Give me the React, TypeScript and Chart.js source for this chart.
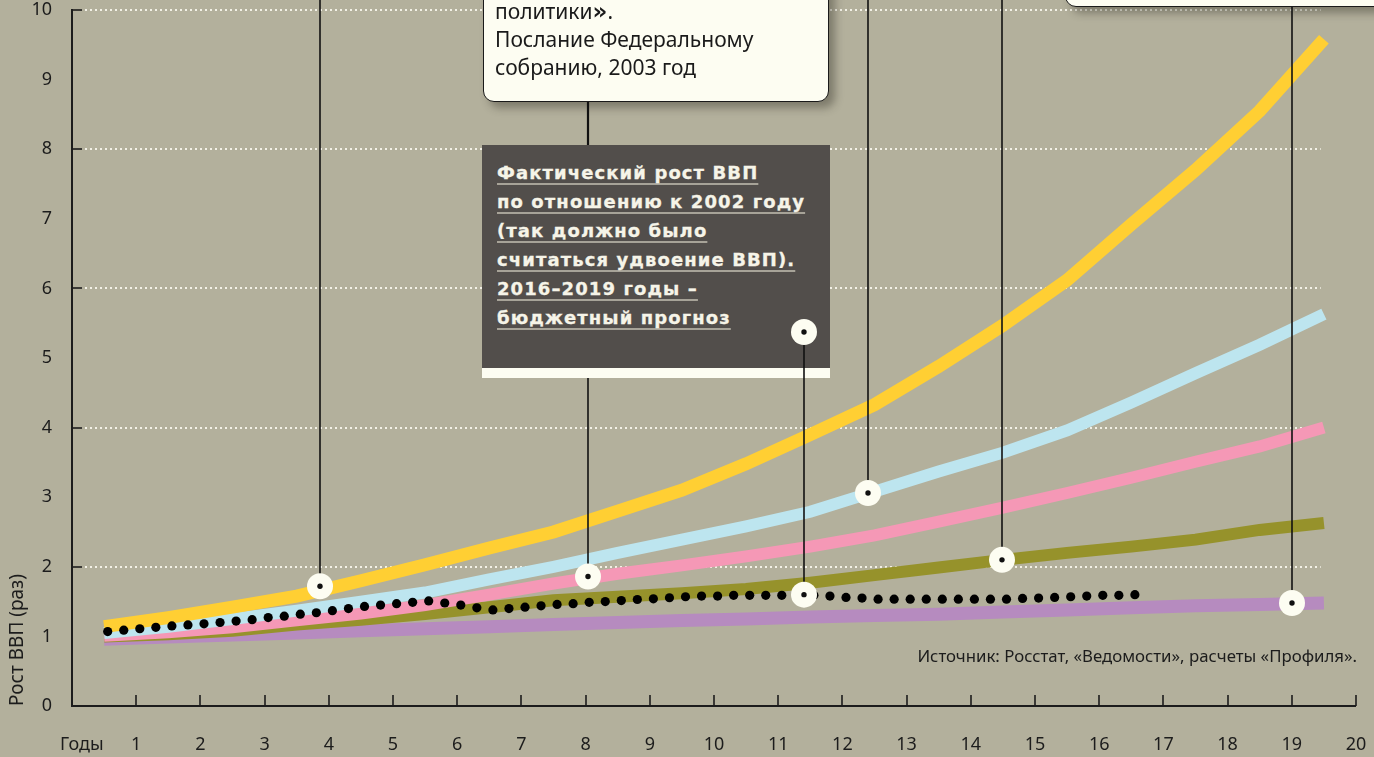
import React, { useEffect, useRef } from 'react';
import { Chart, registerables } from 'chart.js';

Chart.register(...registerables);

// ---------- data ----------
const yearsX = [0.5, 1.5, 2.5, 3.5, 4.5, 5.5, 6.5, 7.5, 8.5, 9.5, 10.5, 11.5, 12.5, 13.5, 14.5, 15.5, 16.5, 17.5, 18.5, 19.5];
const yellowValues = [1.14, 1.27, 1.42, 1.58, 1.8, 2.03, 2.27, 2.5, 2.8, 3.1, 3.48, 3.9, 4.33, 4.88, 5.47, 6.12, 6.92, 7.7, 8.55, 9.58];
const blueValues = [1.05, 1.14, 1.25, 1.37, 1.5, 1.63, 1.82, 2.0, 2.2, 2.39, 2.58, 2.79, 3.08, 3.37, 3.64, 3.96, 4.36, 4.78, 5.19, 5.63];
const pinkValues = [1.01, 1.06, 1.13, 1.23, 1.33, 1.45, 1.6, 1.76, 1.9, 2.02, 2.15, 2.29, 2.45, 2.65, 2.85, 3.06, 3.28, 3.51, 3.73, 4.0];
const oliveValues = [1.0, 1.03, 1.08, 1.17, 1.24, 1.32, 1.42, 1.52, 1.57, 1.62, 1.68, 1.77, 1.88, 1.99, 2.1, 2.2, 2.29, 2.39, 2.53, 2.63];
const purpleValues = [0.96, 0.99, 1.02, 1.05, 1.08, 1.11, 1.14, 1.17, 1.2, 1.23, 1.25, 1.28, 1.3, 1.32, 1.35, 1.38, 1.41, 1.44, 1.46, 1.48];

// actual GDP growth, quarterly
const factStart = 0.556;
const factStep = 0.25;
const factValues = [
  1.07, 1.09, 1.11, 1.13, 1.15, 1.165, 1.18, 1.2, 1.22, 1.24, 1.27, 1.29, 1.32, 1.34, 1.37, 1.4,
  1.43, 1.45, 1.47, 1.49, 1.51, 1.48, 1.45, 1.41, 1.38, 1.4, 1.42, 1.44, 1.46, 1.47, 1.49, 1.5,
  1.515, 1.53, 1.54, 1.555, 1.57, 1.58, 1.58, 1.59, 1.59, 1.59, 1.59, 1.59, 1.59, 1.58, 1.56, 1.55,
  1.535, 1.535, 1.535, 1.535, 1.535, 1.535, 1.535, 1.535, 1.535, 1.545, 1.55, 1.56, 1.57, 1.58, 1.59, 1.59,
  1.6,
];

const yTickValues = [0, 1, 2, 3, 4, 5, 6, 7, 8, 9, 10];
const xTickValues = [1, 2, 3, 4, 5, 6, 7, 8, 9, 10, 11, 12, 13, 14, 15, 16, 17, 18, 19, 20];
const gridValues = [2, 4, 6, 8, 10];

// annotation markers (data coordinates)
const annX = [3.86, 8.04, 11.4, 12.4, 14.49, 19.0];
const annY = [1.72, 1.86, 1.6, 3.06, 2.1, 1.48];

// ---------- style ----------
const BG = '#b3b09c';
const CREAM = '#fdfdf2';
const INK = '#1c1c1c';
const C_YELLOW = '#ffcf33';
const C_BLUE = '#bde5ef';
const C_PINK = '#f598b6';
const C_OLIVE = '#96922b';
const C_PURPLE = '#b68bbf';
const DARK = '#524e4b';

const W = 1374;
const H = 757;

const BOX1 = { left: 483, top: -60, width: 346, height: 162 };
const BOX2 = { left: 1065, top: -60, width: 340, height: 67 };
const DBOX = { left: 482, top: 145, width: 348, height: 233 };
const DBOX_CIRCLE_Y = 332;

const mk = (vals: number[]) => yearsX.map((x, i) => ({ x, y: vals[i] }));

export default function App() {
  const canvasRef = useRef<HTMLCanvasElement | null>(null);
  const overlayRef = useRef<HTMLCanvasElement | null>(null);

  useEffect(() => {
    document.body.style.margin = '0';
    document.body.style.background = BG;
    const canvas = canvasRef.current;
    if (!canvas) return;

    const decorPlugin = {
      id: 'decor',
      beforeDatasetsDraw(chart: any) {
        const { ctx, chartArea } = chart;
        const xs = chart.scales.x;
        const ys = chart.scales.y;
        ctx.save();
        // dotted grid lines
        const gx0 = chartArea.left + 13;
        const gx1 = xs.getPixelForValue(19.45);
        ctx.strokeStyle = '#f3f1e6';
        ctx.lineWidth = 2;
        ctx.setLineDash([2, 3]);
        gridValues.forEach((v) => {
          const y = Math.round(ys.getPixelForValue(v));
          ctx.beginPath();
          ctx.moveTo(gx0, y);
          ctx.lineTo(gx1, y);
          ctx.stroke();
        });
        ctx.setLineDash([]);
        // y ticks (short, inward)
        ctx.strokeStyle = INK;
        ctx.lineWidth = 1.6;
        gridValues.forEach((v) => {
          const y = Math.round(ys.getPixelForValue(v));
          ctx.beginPath();
          ctx.moveTo(chartArea.left, y);
          ctx.lineTo(chartArea.left + 10, y);
          ctx.stroke();
        });
        // axes
        ctx.lineWidth = 2;
        ctx.beginPath();
        ctx.moveTo(chartArea.left, chartArea.top - 1);
        ctx.lineTo(chartArea.left, chartArea.bottom);
        ctx.lineTo(chartArea.right, chartArea.bottom);
        ctx.stroke();
        // x ticks (inward)
        ctx.lineWidth = 1.6;
        xTickValues.forEach((v) => {
          const x = Math.round(xs.getPixelForValue(v));
          ctx.beginPath();
          ctx.moveTo(x, chartArea.bottom);
          ctx.lineTo(x, chartArea.bottom - 11);
          ctx.stroke();
        });
        // "Годы" label
        ctx.fillStyle = INK;
        ctx.font = '18px "Noto Sans"';
        ctx.textAlign = 'left';
        ctx.textBaseline = 'middle';
        ctx.fillText('Годы', chartArea.left - 12, chartArea.bottom + 39);
        ctx.restore();
      },
      afterDraw(chart: any) {
        const ov = overlayRef.current;
        if (!ov) return;
        const ctx = ov.getContext('2d');
        if (!ctx) return;
        ctx.clearRect(0, 0, ov.width, ov.height);
        const xs = chart.scales.x;
        const ys = chart.scales.y;
        const starts = [0, DBOX.top + DBOX.height, DBOX_CIRCLE_Y, 0, 0, BOX2.top + BOX2.height];
        ctx.strokeStyle = '#111';
        ctx.lineWidth = 1.6;
        const line = (x: number, y0: number, y1: number) => {
          ctx.beginPath();
          ctx.moveTo(x, y0);
          ctx.lineTo(x, y1);
          ctx.stroke();
        };
        const x2 = Math.round(xs.getPixelForValue(annX[1]));
        ctx.lineWidth = 2.2;
        line(x2, BOX1.top + BOX1.height, DBOX.top);
        ctx.lineWidth = 1.6;
        const circle = (x: number, y: number) => {
          ctx.fillStyle = CREAM;
          ctx.beginPath();
          ctx.arc(x, y, 13, 0, Math.PI * 2);
          ctx.fill();
          ctx.fillStyle = '#111';
          ctx.beginPath();
          ctx.arc(x, y, 2.7, 0, Math.PI * 2);
          ctx.fill();
        };
        const pts = annX.map((ax, i) => ({ x: Math.round(xs.getPixelForValue(ax)), y: ys.getPixelForValue(annY[i]) }));
        pts.forEach((p, i) => line(p.x, starts[i], p.y));
        circle(pts[2].x, DBOX_CIRCLE_Y);
        pts.forEach((p) => circle(p.x, p.y));
      },
    };

    const band = (label: string, vals: number[], color: string, order: number, width: number) => ({
      label,
      data: mk(vals),
      borderColor: color,
      backgroundColor: color,
      borderWidth: width,
      pointRadius: 0,
      tension: 0,
      fill: false,
      borderCapStyle: 'butt' as const,
      borderJoinStyle: 'miter' as const,
      order,
    });

    const chart = new Chart(canvas, {
      type: 'line',
      data: {
        datasets: [
          {
            label: 'Фактический рост ВВП',
            data: factValues.map((y, i) => ({ x: factStart + i * factStep, y })),
            showLine: false,
            pointRadius: 4.6,
            pointBackgroundColor: '#000',
            pointBorderWidth: 0,
            borderColor: '#000',
            order: 0,
          } as any,
          band('yellow', yellowValues, C_YELLOW, 1, 13),
          band('blue', blueValues, C_BLUE, 2, 12),
          band('pink', pinkValues, C_PINK, 3, 12),
          band('olive', oliveValues, C_OLIVE, 4, 12),
          band('purple', purpleValues, C_PURPLE, 5, 13),
        ],
      },
      options: {
        animation: false,
        responsive: false,
        maintainAspectRatio: false,
        events: [],
        layout: { padding: { top: 10, right: 18, left: 0, bottom: 0 } },
        plugins: {
          legend: { display: false },
          tooltip: { enabled: false },
          title: { display: false },
        },
        scales: {
          x: {
            type: 'linear',
            min: 0,
            max: 20,
            grid: { display: false, drawTicks: false },
            border: { display: false },
            afterBuildTicks: (s: any) => {
              s.ticks = [0, ...xTickValues].map((v) => ({ value: v }));
            },
            ticks: {
              padding: 28,
              color: INK,
              maxRotation: 0,
              autoSkip: false,
              font: { family: 'Noto Sans', size: 18 },
              callback: (v: any) => (v === 0 ? '' : String(v)),
            },
            afterFit: (s: any) => {
              s.height = 51;
              s.paddingLeft = 0;
              s.paddingRight = 0;
            },
          },
          y: {
            type: 'linear',
            min: 0,
            max: 10,
            grid: { display: false, drawTicks: false },
            border: { display: false },
            afterBuildTicks: (s: any) => {
              s.ticks = yTickValues.map((v) => ({ value: v }));
            },
            ticks: {
              padding: 20,
              color: INK,
              font: { family: 'Noto Sans', size: 18 },
            },
            title: {
              display: true,
              text: 'Рост ВВП (раз)',
              align: 'start',
              color: INK,
              font: { family: 'Noto Sans', size: 19 },
              padding: { top: 6, bottom: 0 },
            },
            afterFit: (s: any) => {
              s.width = 72;
              s.paddingTop = 0;
              s.paddingBottom = 0;
            },
          },
        },
      },
      plugins: [decorPlugin],
    } as any);

    return () => {
      chart.destroy();
    };
  }, []);

  const boxStyle = (b: { left: number; top: number; width: number; height: number }): React.CSSProperties => ({
    position: 'absolute',
    left: b.left,
    top: b.top,
    width: b.width,
    height: b.height,
    boxSizing: 'border-box',
    background: CREAM,
    border: '1.5px solid #1a1a1a',
    borderRadius: 11,
    boxShadow: '6px 6px 9px rgba(40,38,28,0.38)',
    zIndex: 2,
  });

  const darkLines = [
    'Фактический рост ВВП',
    'по отношению к 2002 году',
    '(так должно было',
    'считаться удвоение ВВП).',
    '2016–2019 годы –',
    'бюджетный прогноз',
  ];

  return (
    <div style={{ position: 'relative', width: W, height: H, overflow: 'hidden', background: BG }}>
      <canvas ref={canvasRef} width={W} height={H} style={{ position: 'absolute', left: 0, top: 0, zIndex: 1 }} />
      <div style={boxStyle(BOX1)}>
        <div
          style={{
            position: 'absolute',
            left: 11,
            top: 56,
            fontFamily: '"Noto Sans", sans-serif',
            fontSize: 21,
            lineHeight: '28px',
            color: '#1a1a1a',
            whiteSpace: 'nowrap',
          }}
        >
          <div>
            политики<b style={{ fontFamily: '"DejaVu Sans"', fontWeight: 900, fontSize: 23 }}>»</b>.
          </div>
          <div>Послание Федеральному</div>
          <div>собранию, 2003 год</div>
        </div>
      </div>
      <div style={boxStyle(BOX2)} />
      <div
        style={{
          position: 'absolute',
          left: DBOX.left,
          top: DBOX.top,
          width: DBOX.width,
          height: DBOX.height,
          boxSizing: 'border-box',
          background: DARK,
          borderBottom: `10px solid ${CREAM}`,
          zIndex: 2,
        }}
      >
        <div
          style={{
            position: 'absolute',
            left: 15,
            top: 13,
            fontFamily: '"DejaVu Sans", sans-serif',
            fontWeight: 700,
            fontSize: 18,
            letterSpacing: '1.1px',
            lineHeight: '29px',
            color: '#f6f4e8',
            whiteSpace: 'nowrap',
            WebkitTextStroke: '0.3px #f6f4e8',
          }}
        >
          {darkLines.map((t) => (
            <div key={t}>
              <span
                style={{
                  textDecoration: 'underline',
                  textDecorationColor: '#a7a398',
                  textDecorationThickness: '2px',
                  textUnderlineOffset: '4px',
                }}
              >
                {t}
              </span>
            </div>
          ))}
        </div>
      </div>
      <div
        style={{
          position: 'absolute',
          right: W - 1357,
          top: 644,
          fontFamily: '"Noto Sans", sans-serif',
          fontSize: 16.8,
          lineHeight: '24px',
          color: '#1c1c1c',
          whiteSpace: 'nowrap',
          zIndex: 2,
        }}
      >
        Источник: Росстат, «Ведомости», расчеты «Профиля».
      </div>
      <canvas
        ref={overlayRef}
        width={W}
        height={H}
        style={{ position: 'absolute', left: 0, top: 0, zIndex: 3, pointerEvents: 'none' }}
      />
    </div>
  );
}
